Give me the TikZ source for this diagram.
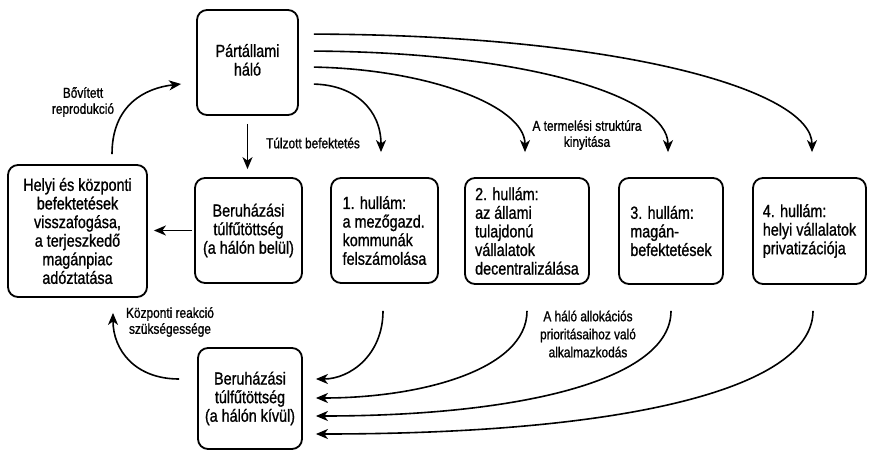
\documentclass[tikz,border=0pt]{standalone}
\usepackage{fontspec}
\setmainfont[FakeStretch=0.82,FakeBold=1.0]{Liberation Sans}
\usetikzlibrary{arrows.meta,calc}
\begin{document}
\begin{tikzpicture}[x=1pt,y=-1pt,
  box/.style={draw, line width=1.8pt, rounded corners=10pt,
    font=\fontsize{17.5}{18.6}\selectfont, inner sep=0pt},
  lbl/.style={font=\fontsize{14.5}{16}\selectfont, align=center, inner sep=0pt},
  arr/.style={line width=1.6pt, -{Stealth[length=12pt,width=10pt,inset=3.5pt]}}]
\fill[white] (0,0) rectangle (870,452);
\useasboundingbox (0,0) rectangle (870,452);

% boxes
\node[box, minimum width=101pt, minimum height=105pt, align=center] (part) at (247.5,62.5) {\raisebox{-3pt}{\begin{tabular}{@{}c@{}}Pártállami\\háló\end{tabular}}};
\node[box, minimum width=139pt, minimum height=132pt, align=center] (helyi) at (77.5,231) {Helyi és központi\\befektetések\\visszafogása,\\a terjeszkedő\\magánpiac\\adóztatása};
\node[box, minimum width=107pt, minimum height=105pt, align=center] (belul) at (248.5,230.5) {Beruházási\\túlfűtöttség\\(a hálón belül)};
\node[box, minimum width=107pt, minimum height=105pt, align=left] (h1) at (384.5,230.5) {1. hullám:\\a mezőgazd.\\kommunák\\felszámolása};
\node[box, minimum width=124pt, minimum height=106pt, align=left] (h2) at (527,231) {2. hullám:\\az állami\\tulajdonú\\vállalatok\\decentralizálása};
\node[box, minimum width=104pt, minimum height=106pt, align=left] (h3) at (671,231) {3. hullám:\\magán-\\befektetések};
\node[box, minimum width=113pt, minimum height=106pt, align=left] (h4) at (809.5,231) {4. hullám:\\helyi vállalatok\\privatizációja};
\node[box, minimum width=104pt, minimum height=101pt, align=center] (kivul) at (250,398.5) {Beruházási\\túlfűtöttség\\(a hálón kívül)};

% labels
\node[lbl] (bov) at (83,102) {Bővített\\reprodukció};
\node[lbl] (tulz) at (313,143) {Túlzott befektetés};
\node[lbl] (term) at (587,135) {A termelési struktúra\\kinyitása};
\node[lbl] (kozp) at (170,322) {Központi reakció\\szükségessége};
\node[lbl, font=\fontsize{14.5}{18}\selectfont] (allok) at (588,334) {A háló allokációs\\prioritásaihoz való\\alkalmazkodás};

% straight arrows
\draw[arr, line width=1.3pt, shorten <=8pt, shorten >=8pt] (part.south) -- (part.south |- belul.north);
\draw[arr, shorten <=2pt, shorten >=6pt] (belul.west) -- (belul.west -| helyi.east);

% fan from the network to the four waves
\draw[arr] ($(part.north east)+(15,75)$) .. controls (355,85) and (381,110) .. ($(h1.north)+(-3.5,-25)$);
\draw[arr] ($(part.north east)+(15,58)$) .. controls (425,69) and (525,105) .. ($(h2.north)+(-2,-25)$);
\draw[arr] ($(part.north east)+(15,42)$) .. controls (520,52) and (668,95) .. ($(h3.north)+(-3,-25)$);
\draw[arr] ($(part.north east)+(15,25)$) .. controls (620,35) and (812,90) .. ($(h4.north)+(2.5,-25)$);

% fan from the waves to the overheating outside the network
\draw[arr] ($(h1.south)+(-1.5,27)$) .. controls (383,355) and (350,379) .. ($(kivul.east)+(13,-19.5)$);
\draw[arr] ($(h2.south)+(0,26)$) .. controls (527,370) and (420,398) .. ($(kivul.east)+(13,-0.5)$);
\draw[arr] ($(h3.south)+(0,26)$) .. controls (671,380) and (520,416) .. ($(kivul.east)+(13,17.5)$);
\draw[arr] ($(h4.south)+(3.5,26)$) .. controls (813,385) and (640,434) .. ($(kivul.east)+(13,35.5)$);

% feedback loops on the left
\draw[arr] ($(helyi.north)+(34.5,-10)$) .. controls (112,105) and (145,88) .. ($(part.west)+(-15,21.5)$);
\draw[arr] ($(kivul.west)+(-18,-19.5)$) .. controls (135,379) and (113,350) .. ($(helyi.south)+(35.5,15)$);
\end{tikzpicture}
\end{document}
